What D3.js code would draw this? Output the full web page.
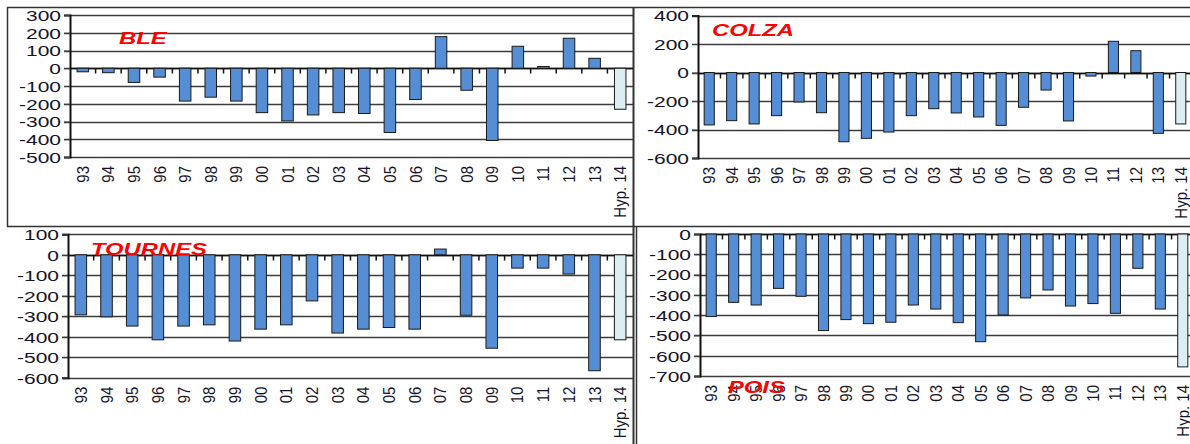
<!DOCTYPE html>
<html>
<head>
<meta charset="utf-8">
<script src="https://cdn.jsdelivr.net/npm/d3@7"></script>
<style>
    body { margin: 0; background: #fff; }
    svg { display: block; font-family: "Liberation Sans", Arial, sans-serif; }
</style>
</head>
<body>
<div id="chart"></div>
<script>
// Categories (years + hypothesis)
let categories = ["93", "94", "95", "96", "97", "98", "99", "00", "01", "02", "03",
    "04", "05", "06", "07", "08", "09", "10", "11", "12", "13", "Hyp. 14"];

// Values per crop
let bleValues = [-20, -25, -80, -50, -185, -163, -185, -250, -297, -263, -250,
    -255, -362, -176, 178, -124, -407, 124, 10, 169, 56, -231];
let colzaValues = [-368, -338, -361, -303, -207, -282, -486, -462, -418, -303, -254,
    -284, -312, -371, -244, -123, -340, -25, 219, 153, -427, -361];
let tournesValues = [-293, -303, -348, -415, -348, -342, -421, -363, -342, -225, -382,
    -363, -355, -363, 28, -295, -456, -65, -65, -94, -566, -415];
let poisValues = [-407, -337, -350, -268, -307, -476, -422, -442, -435, -350, -370,
    -437, -531, -399, -315, -276, -355, -343, -391, -169, -370, -655];

// Y tick labels
let bleTicks = [300, 200, 100, 0, -100, -200, -300, -400, -500];
let colzaTicks = [400, 200, 0, -200, -400, -600];
let tournesTicks = [100, 0, -100, -200, -300, -400, -500, -600];
let poisTicks = [0, -100, -200, -300, -400, -500, -600, -700];

// Panel titles
let titles = ["BLE", "COLZA", "TOURNES", "POIS"];

let blue = "#558ed5";
let lightBlue = "#dbeef4";

let svg = d3.select("#chart")
    .append("svg")
    .attr("width", 1190)
    .attr("height", 444);

// Frames around panels
let frame = svg.append("g")
    .attr("stroke", "#333")
    .attr("fill", "none");
frame.append("line").attr("x1", 7).attr("x2", 1190).attr("y1", 7.5).attr("y2", 7.5).attr("stroke-width", 1.5);
frame.append("line").attr("x1", 7.5).attr("x2", 7.5).attr("y1", 7).attr("y2", 227).attr("stroke-width", 1.5);
frame.append("line").attr("x1", 7).attr("x2", 1190).attr("y1", 226.5).attr("y2", 226.5).attr("stroke-width", 1.5);
frame.append("line").attr("x1", 633.5).attr("x2", 633.5).attr("y1", 7).attr("y2", 444).attr("stroke-width", 2);
frame.append("line").attr("x1", 636.5).attr("x2", 636.5).attr("y1", 227).attr("y2", 444).attr("stroke-width", 1.5);

// Draw one panel
const drawPanel = (p) => {

    let y = d3.scaleLinear()
        .domain([d3.min(p.ticks), d3.max(p.ticks)])
        .range([p.b, p.t]);

    let x = d3.scaleBand()
        .domain(categories)
        .range([p.l, p.r]);

    let g = svg.append("g");

    // Gridlines
    g.selectAll("line.grid")
        .data(p.ticks)
        .enter().append("line")
        .attr("class", "grid")
        .attr("x1", p.l - 6)
        .attr("x2", p.r)
        .attr("y1", function (d) { return Math.round(y(d)) + 0.5; })
        .attr("y2", function (d) { return Math.round(y(d)) + 0.5; })
        .attr("stroke", "#3c3c3c")
        .attr("stroke-width", 1.3);

    // Y axis
    let ya = g.append("g")
        .attr("transform", "translate(" + p.l + ",0)")
        .call(d3.axisLeft(y)
            .tickValues(p.ticks)
            .tickSize(6)
            .tickPadding(3)
            .tickFormat(function (d) { return String(d); }));
    ya.select(".domain").attr("stroke", "#111").attr("stroke-width", 2);
    ya.selectAll(".tick line").attr("stroke", "#3c3c3c");
    ya.selectAll(".tick text")
        .attr("font-size", 15)
        .attr("fill", "#141428")
        .attr("dy", "0.36em")
        .attr("x", 0)
        .attr("transform", "translate(-9,0) scale(1.4,1)");

    // Zero line with small ticks between categories
    let y0 = Math.round(y(0)) + 0.5;
    g.append("line")
        .attr("x1", p.l).attr("x2", p.r)
        .attr("y1", y0).attr("y2", y0)
        .attr("stroke", "#111")
        .attr("stroke-width", 1.5);
    g.selectAll("line.sep")
        .data(categories.slice(1))
        .enter().append("line")
        .attr("class", "sep")
        .attr("x1", function (c) { return x(c); })
        .attr("x2", function (c) { return x(c); })
        .attr("y1", y0)
        .attr("y2", y0 + 5)
        .attr("stroke", "#111")
        .attr("stroke-width", 1.5);

    // Bars
    let bw = x.bandwidth() * 0.45;
    g.selectAll("rect")
        .data(p.values)
        .enter().append("rect")
        .attr("x", function (v, i) { return x(categories[i]) + (x.bandwidth() - bw) / 2; })
        .attr("y", function (v) { return y(Math.max(0, v)); })
        .attr("width", bw)
        .attr("height", function (v) { return Math.abs(y(v) - y(0)); })
        .attr("fill", function (v, i) { return i == categories.length - 1 ? lightBlue : blue; })
        .attr("stroke", "#1a1a1a")
        .attr("stroke-width", 1);

    // Category labels, rotated
    let xa = g.append("g")
        .attr("transform", "translate(0," + p.b + ")")
        .call(d3.axisBottom(x).tickSize(0));
    xa.select(".domain").remove();
    xa.selectAll(".tick text")
        .attr("font-size", 15)
        .attr("fill", "#141428")
        .attr("text-anchor", "end")
        .attr("y", 0)
        .attr("dy", "0.36em")
        .attr("transform", "rotate(-90) translate(-9,0) scale(1,1.12)");

    // Title
    g.append("text")
        .attr("transform", "translate(" + p.tx + "," + p.ty + ") scale(1.4,1)")
        .attr("font-size", 17)
        .attr("font-weight", "bold")
        .attr("font-style", "italic")
        .attr("fill", "#ff0000")
        .text(p.title);
};

let panels = [
    { title: titles[0], values: bleValues, ticks: bleTicks, l: 70, r: 633, t: 15, b: 157, tx: 119, ty: 44 },
    { title: titles[1], values: colzaValues, ticks: colzaTicks, l: 698, r: 1192, t: 15.5, b: 158, tx: 712, ty: 36 },
    { title: titles[2], values: tournesValues, ticks: tournesTicks, l: 68, r: 633, t: 234.3, b: 377.7, tx: 91, ty: 255 },
    { title: titles[3], values: poisValues, ticks: poisTicks, l: 700, r: 1194, t: 234, b: 376, tx: 728, ty: 393 }
];

panels.forEach(drawPanel);
</script>
</body>
</html>
